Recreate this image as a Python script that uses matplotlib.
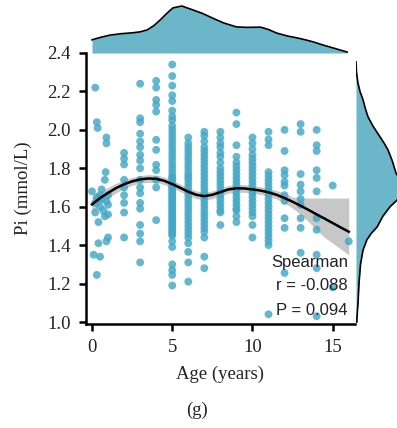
import numpy as np
import matplotlib
matplotlib.use("Agg")
import matplotlib.pyplot as plt

# ---------------- data ----------------
young_age = [0.2, 0.3, 0.35, 0.9, 0.9, 0.85, 0.8, 0.0, 0.6, 0.3, 0.2, 0.5, 0.6, 0.9, 0.5,
             1.0, 1.0, 0.7, 0.2, 0.4, 1.0, 0.4, 0.9, 1.0, 0.1, 0.5, 0.3, 0.8, 0.4]
young_pi = [2.22, 2.04, 2.01, 1.96, 1.93, 1.78, 1.74, 1.68, 1.69, 1.65, 1.62, 1.66, 1.64, 1.63, 1.60,
            1.61, 1.66, 1.58, 1.57, 1.52, 1.56, 1.41, 1.42, 1.44, 1.35, 1.34, 1.245, 1.55, 1.64]

pi_age2 = [1.88, 1.85, 1.82, 1.74, 1.70, 1.66, 1.62, 1.57, 1.44]
pi_age3 = [2.24, 2.06, 2.04, 1.98, 1.94, 1.91, 1.87, 1.84, 1.80, 1.74, 1.70, 1.67, 1.62,
           1.59, 1.505, 1.46, 1.42, 1.31]
pi_age4 = [2.255, 2.22, 2.156, 2.13, 2.095, 1.948, 1.896, 1.818, 1.79, 1.74, 1.70, 1.53]
pi_age5 = [2.34, 2.28, 2.23, 2.18, 2.15, 2.10, 2.07, 2.05, 2.02, 2.00, 1.98, 1.96, 1.94,
           1.92, 1.90, 1.88, 1.86, 1.84, 1.82, 1.80, 1.78, 1.76, 1.75, 1.74, 1.72, 1.71,
           1.70, 1.69, 1.68, 1.67, 1.66, 1.65, 1.64, 1.63, 1.62, 1.61, 1.60, 1.59, 1.58,
           1.57, 1.56, 1.55, 1.54, 1.53, 1.52, 1.51, 1.50, 1.49, 1.48, 1.47, 1.46, 1.45,
           1.42, 1.39, 1.30, 1.27, 1.245, 1.19]
pi_age6 = [1.96, 1.93, 1.91, 1.89, 1.87, 1.85, 1.83, 1.81, 1.79, 1.77, 1.755, 1.74, 1.72,
           1.70, 1.68, 1.66, 1.64, 1.62, 1.60, 1.58, 1.56, 1.54, 1.52, 1.50, 1.48, 1.46,
           1.44, 1.41, 1.365, 1.31, 1.21]
pi_age7 = [1.99, 1.97, 1.94, 1.91, 1.89, 1.87, 1.85, 1.83, 1.81, 1.79, 1.77, 1.75, 1.73,
           1.71, 1.69, 1.67, 1.65, 1.63, 1.61, 1.59, 1.57, 1.55, 1.53, 1.51, 1.49, 1.47,
           1.44, 1.34, 1.28]
pi_age8 = [1.99, 1.96, 1.93, 1.91, 1.88, 1.86, 1.83, 1.80, 1.78, 1.76, 1.74, 1.72, 1.70,
           1.68, 1.66, 1.64, 1.62, 1.60, 1.58, 1.57, 1.505]
pi_age9 = [2.09, 2.03, 1.92, 1.86, 1.83, 1.81, 1.79, 1.77, 1.75, 1.73, 1.71, 1.69, 1.67,
           1.65, 1.63, 1.61, 1.59, 1.58, 1.55, 1.52]
pi_age10 = [1.96, 1.93, 1.90, 1.87, 1.85, 1.83, 1.81, 1.79, 1.77, 1.75, 1.73, 1.71, 1.69,
            1.67, 1.65, 1.63, 1.61, 1.59, 1.57, 1.55, 1.505, 1.44]
pi_age11 = [1.99, 1.95, 1.92, 1.78, 1.76, 1.74, 1.72, 1.70, 1.68, 1.66, 1.64, 1.62, 1.60,
            1.58, 1.56, 1.54, 1.52, 1.50, 1.48, 1.46, 1.44, 1.42, 1.40, 1.04]
pi_age12 = [2.00, 1.89, 1.79, 1.765, 1.73, 1.71, 1.66, 1.63, 1.54, 1.49, 1.255]
pi_age13 = [2.03, 1.99, 1.77, 1.715, 1.68, 1.64, 1.61, 1.54, 1.49, 1.36]
pi_age14 = [2.00, 1.92, 1.89, 1.79, 1.75, 1.68, 1.54, 1.48, 1.35, 1.28, 1.03]
pi_age15 = [1.71, 1.18]
pi_age16 = [1.42]

# smoothed trend with confidence band
fit_age = [0, 0.5, 1, 1.5, 2, 2.5, 3, 3.5, 4, 4.5, 5, 5.5, 6, 6.5, 7, 7.5, 8, 8.5, 9, 9.5,
           10, 10.5, 11, 11.5, 12, 12.5, 13, 13.5, 14, 14.5, 15, 15.5, 16]
fit_pi = [1.612, 1.645, 1.672, 1.697, 1.717, 1.732, 1.742, 1.747, 1.745, 1.735, 1.718, 1.698,
          1.678, 1.662, 1.655, 1.662, 1.676, 1.690, 1.696, 1.695, 1.690, 1.684, 1.675, 1.662,
          1.645, 1.626, 1.605, 1.583, 1.560, 1.538, 1.515, 1.492, 1.470]
band_lo = [1.572, 1.612, 1.644, 1.672, 1.694, 1.712, 1.722, 1.727, 1.725, 1.715, 1.698, 1.678,
           1.658, 1.642, 1.635, 1.642, 1.656, 1.670, 1.676, 1.675, 1.670, 1.664, 1.655, 1.640,
           1.619, 1.592, 1.560, 1.522, 1.478, 1.440, 1.410, 1.380, 1.350]
band_hi = [1.652, 1.678, 1.700, 1.722, 1.740, 1.752, 1.762, 1.767, 1.765, 1.755, 1.738, 1.718,
           1.698, 1.682, 1.675, 1.682, 1.696, 1.710, 1.716, 1.715, 1.710, 1.704, 1.695, 1.684,
           1.671, 1.650, 1.645, 1.645, 1.645, 1.645, 1.645, 1.645, 1.645]

# marginal densities (relative)
top_age = [0, 0.5, 1.12, 1.8, 2.55, 3.0, 3.43, 3.85, 4.24, 4.65, 5.05, 5.6, 6.3, 6.9, 7.5,
           8.2, 9.0, 9.7, 10.5, 11.0, 11.5, 12.2, 12.8, 13.3, 13.8, 14.3, 14.8, 15.4, 15.9]
top_density = [0.28, 0.33, 0.38, 0.41, 0.43, 0.45, 0.49, 0.58, 0.70, 0.84, 0.96, 1.0, 0.915,
               0.84, 0.745, 0.64, 0.555, 0.545, 0.55, 0.50, 0.425, 0.36, 0.32, 0.28, 0.235,
               0.18, 0.13, 0.07, 0.02]
right_pi = [2.354, 2.30, 2.245, 2.20, 2.156, 2.11, 2.068, 2.02, 1.964, 1.93, 1.896, 1.84, 1.776,
            1.73, 1.69, 1.65, 1.599, 1.55, 1.495, 1.46, 1.427, 1.375, 1.30, 1.203, 1.10, 1.026, 1.0]
right_density = [0.0, 0.01, 0.04, 0.085, 0.15, 0.20, 0.255, 0.36, 0.51, 0.60, 0.68, 0.77, 0.85,
                 0.96, 1.0, 0.94, 0.72, 0.57, 0.45, 0.32, 0.23, 0.15, 0.096, 0.064, 0.043,
                 0.021, 0.017]

xticks = [0, 5, 10, 15]
yticks = [1.0, 1.2, 1.4, 1.6, 1.8, 2.0, 2.2, 2.4]
stats_text = ["Spearman", "r = -0.088", "P = 0.094"]

# ---------------- assemble ----------------
columns = {2: pi_age2, 3: pi_age3, 4: pi_age4, 5: pi_age5, 6: pi_age6, 7: pi_age7,
           8: pi_age8, 9: pi_age9, 10: pi_age10, 11: pi_age11, 12: pi_age12,
           13: pi_age13, 14: pi_age14, 15: pi_age15, 16: pi_age16}
ages = list(young_age)
pis = list(young_pi)
for a, vals in columns.items():
    ages += [a] * len(vals)
    pis += vals

DOT = "#42A8C5"
FILL = "#6BB7C9"
serif = "Liberation Serif"
sans = "Liberation Sans"
TXT = "#222222"

W, H = 397, 428
fig = plt.figure(figsize=(W / 100, H / 100), dpi=100)

ax = fig.add_axes([86 / W, (H - 324) / H, 269 / W, 271 / H])
ax.fill_between(fit_age, band_lo, band_hi, color="#BDBDBD", alpha=0.85, lw=0, zorder=1)
ax.scatter(ages, pis, s=32, color=DOT, alpha=0.82, edgecolors="none", zorder=2)
ax.plot(fit_age, fit_pi, color="black", lw=1.8, zorder=3)

ax.set_xlim(-0.374, 16.39)
ax.set_ylim(0.9896, 2.4)
ax.set_xticks(xticks)
ax.set_yticks(yticks)
ax.set_yticklabels([f"{v:.1f}" for v in yticks])
for sp in ["top", "right"]:
    ax.spines[sp].set_visible(False)
for sp in ["left", "bottom"]:
    ax.spines[sp].set_linewidth(1.8)
ax.tick_params(axis="both", length=5, width=1.8, labelsize=13.5, pad=6)
for lab in ax.get_xticklabels() + ax.get_yticklabels():
    lab.set_fontfamily(serif)
    lab.set_color(TXT)
ax.set_xlabel("Age (years)", fontsize=13.5, family=serif, color=TXT)
ax.set_ylabel("Pi (mmol/L)", fontsize=13.5, family=serif, color=TXT)
ax.xaxis.set_label_coords(0.498, -0.153)
ax.yaxis.set_label_coords(-0.20, 0.5)

for txt, yv in zip(stats_text, [1.31, 1.19, 1.058]):
    ax.text(15.95, yv, txt, ha="right", va="center", fontsize=12, family=sans,
            color=TXT, zorder=4)

# top marginal
axt = fig.add_axes([86 / W, (H - 53) / H, 269 / W, 53 / H], sharex=ax)
axt.fill_between(top_age, 0, top_density, color=FILL, lw=0)
axt.plot(top_age, top_density, color="black", lw=1.2)
axt.set_ylim(0, 53 / 47)
axt.axis("off")

# right marginal
axr = fig.add_axes([356 / W, (H - 324) / H, 41 / W, 271 / H], sharey=ax)
axr.fill_betweenx(right_pi, 0, right_density, color=FILL, lw=0)
axr.plot(right_density, right_pi, color="black", lw=1.2)
axr.set_xlim(0, 41 / 47)
axr.axis("off")

fig.text(197 / W, 1 - 410 / H, "(g)", ha="center", va="center", fontsize=13.5,
         family=serif, color=TXT)

fig.savefig("out.png", dpi=100)
